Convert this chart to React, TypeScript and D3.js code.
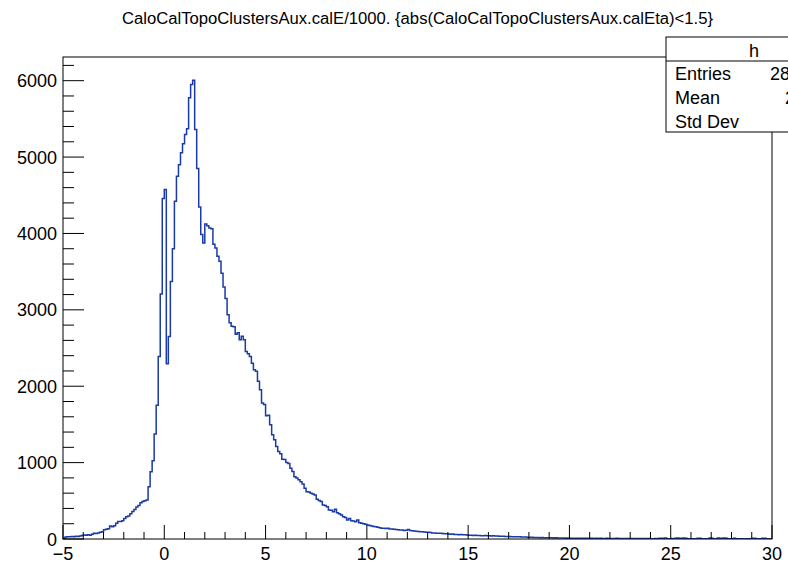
import React from "react";
import * as d3 from "d3";

// ---------- data ----------
const X_MIN = -5;
const X_MAX = 30;
const BIN_WIDTH = 0.1;
const Y_MAX = 6310;

// bin contents from -5.0 to 14.0 (bins of 0.1)
const countsCore = [
  10, 25, 30, 28, 32, 30, 35, 33, 38, 45,
  52, 48, 55, 50, 62, 75, 72, 80, 88, 95,
  120, 127, 135, 170, 160, 175, 205, 230, 228, 240,
  270, 290, 300, 330, 360, 385, 420, 440, 475, 490,
  500, 510, 685, 880, 1025, 1375, 1750, 2390, 3207, 4456,
  4574, 2293, 2650, 3370, 3800, 4420, 4750, 4900, 5055, 5175,
  5295, 5370, 5775, 5950, 6007, 5360, 4850, 4345, 3985, 3875,
  4125, 4100, 4070, 4060, 3860, 3810, 3700, 3635, 3480, 3300,
  3150, 2935, 2830, 2785, 2780, 2680, 2700, 2610, 2655, 2610,
  2455, 2425, 2390, 2300, 2215, 2195, 2065, 1955, 1780, 1760,
  1615, 1620, 1495, 1365, 1300, 1210, 1145, 1115, 1045, 1040,
  1000, 990, 925, 885, 815, 800, 775, 750, 720, 665,
  620, 615, 600, 590, 577, 520, 505, 490, 445, 440,
  423, 380, 375, 358, 390, 345, 330, 315, 292, 280,
  249, 270, 240, 235, 227, 250, 214, 205, 200, 192,
  183, 178, 170, 165, 160, 153, 148, 140, 142, 138,
  140, 132, 130, 127, 125, 120, 118, 118, 112, 115,
  125, 110, 109, 105, 100, 98, 96, 96, 92, 90,
  88, 85, 80, 78, 74, 76, 74, 72, 70, 68,
];

// bin contents from 14.0 to 30.0
const countsTail = [
  66, 62, 64, 58, 60, 57, 59, 55, 56, 52,
  50, 48, 47, 49, 45, 46, 44, 43, 45, 42,
  41, 40, 43, 38, 39, 37, 35, 36, 33, 34,
  32, 30, 31, 29, 28, 30, 27, 26, 25, 24,
  22, 23, 20, 21, 19, 18, 20, 17, 16, 17,
  15, 16, 14, 15, 13, 12, 13, 12, 11, 12,
  11, 10, 11, 10, 9, 10, 11, 9, 10, 8,
  9, 10, 8, 9, 8, 9, 7, 8, 9, 8,
  7, 8, 7, 9, 8, 7, 6, 8, 7, 6,
  7, 6, 8, 7, 6, 5, 7, 6, 5, 6,
  4, 3, 5, 4, 10, 11, 10, 12, 4, 3,
  5, 3, 11, 12, 10, 11, 12, 10, 3, 4,
  3, 2, 4, 11, 10, 3, 2, 4, 3, 12,
  11, 3, 4, 12, 11, 10, 12, 11, 4, 3,
  2, 11, 3, 2, 4, 3, 1, 2, 3, 2,
  10, 11, 3, 2, 2, 11, 10, 1, 2, 1,
];

const xMajorTicks = [-5, 0, 5, 10, 15, 20, 25, 30];
const xTickLabels = ["\u22125", "0", "5", "10", "15", "20", "25", "30"];
const yMajorTicks = [0, 1000, 2000, 3000, 4000, 5000, 6000];
const yTickLabels = ["0", "1000", "2000", "3000", "4000", "5000", "6000"];

const titleText =
  "CaloCalTopoClustersAux.calE/1000. {abs(CaloCalTopoClustersAux.calEta)<1.5}";
const statsName = "h";
const statsLabels = ["Entries", "Mean", "Std Dev"];
const statsValues = ["283517", "2.593", "3.04"];

// ---------- layout ----------
const W = 788;
const H = 570;
const left = 63;
const right = 772;
const top = 57;
const bottom = 539;
const FONT = "'Liberation Sans', Arial, Helvetica, sans-serif";
const LINE = "#1a3aa8";
const statsValueX = [770, 785, 797];

export default function App() {
  const counts = [...countsCore, ...countsTail];
  const x = d3.scaleLinear().domain([X_MIN, X_MAX]).range([left, right]);
  const y = d3.scaleLinear().domain([0, Y_MAX]).range([bottom, top]);

  const pts: [number, number][] = [[X_MIN, 0]];
  counts.forEach((c, i) => {
    const x0 = X_MIN + i * BIN_WIDTH;
    pts.push([x0, c]);
    pts.push([x0 + BIN_WIDTH, c]);
  });
  pts.push([X_MAX, 0]);
  const line = d3
    .line<[number, number]>()
    .x((d) => x(d[0]))
    .y((d) => y(d[1]));
  const pathD = line(pts) || "";

  const xMinor = d3.range(X_MIN, X_MAX + 0.001, 1).filter((v) => !xMajorTicks.includes(v));
  const yMinor = d3.range(0, Y_MAX, 200).filter((v) => v % 1000 !== 0);

  return (
    <div style={{ position: "fixed", left: 0, top: 0, width: W, height: H, background: "#fff" }}>
      <svg width={W} height={H} style={{ display: "block" }} fontFamily={FONT}>
        <rect x={0} y={0} width={W} height={H} fill="#fff" />
        <text x={417.5} y={24} textAnchor="middle" fontSize={16} textLength={591} lengthAdjust="spacingAndGlyphs">
          {titleText}
        </text>

        <defs>
          <clipPath id="frameClip">
            <rect x={left} y={top} width={right - left} height={bottom - top} />
          </clipPath>
        </defs>

        <path d={pathD} fill="none" stroke={LINE} strokeWidth={1.5} clipPath="url(#frameClip)" />

        {/* frame */}
        <rect x={left} y={top} width={right - left} height={bottom - top} fill="none" stroke="#000" strokeWidth={1} />

        {/* x ticks */}
        {xMajorTicks.map((v, i) => (
          <g key={"xm" + v}>
            <line x1={x(v)} x2={x(v)} y1={bottom} y2={bottom - 14} stroke="#000" strokeWidth={1} />
            <text x={x(v)} y={560} textAnchor="middle" fontSize={18}>
              {xTickLabels[i]}
            </text>
          </g>
        ))}
        {xMinor.map((v) => (
          <line key={"xn" + v} x1={x(v)} x2={x(v)} y1={bottom} y2={bottom - 7} stroke="#000" strokeWidth={1} />
        ))}

        {/* y ticks */}
        {yMajorTicks.map((v, i) => (
          <g key={"ym" + v}>
            <line x1={left} x2={left + 21} y1={y(v)} y2={y(v)} stroke="#000" strokeWidth={1} />
            <text x={57} y={y(v) + 6.5} textAnchor="end" fontSize={18}>
              {yTickLabels[i]}
            </text>
          </g>
        ))}
        {yMinor.map((v) => (
          <line key={"yn" + v} x1={left} x2={left + 11} y1={y(v)} y2={y(v)} stroke="#000" strokeWidth={1} />
        ))}

        {/* stats box */}
        <rect x={666} y={37} width={176} height={95} fill="#fff" stroke="#000" strokeWidth={1} />
        <line x1={666} x2={842} y1={61} y2={61} stroke="#000" strokeWidth={1} />
        <text x={754} y={57} textAnchor="middle" fontSize={18}>
          {statsName}
        </text>
        {statsLabels.map((lab, i) => (
          <g key={lab}>
            <text x={675} y={80 + i * 24} fontSize={18}>
              {lab}
            </text>
            <text x={statsValueX[i]} y={80 + i * 24} fontSize={18}>
              {statsValues[i]}
            </text>
          </g>
        ))}
      </svg>
    </div>
  );
}
